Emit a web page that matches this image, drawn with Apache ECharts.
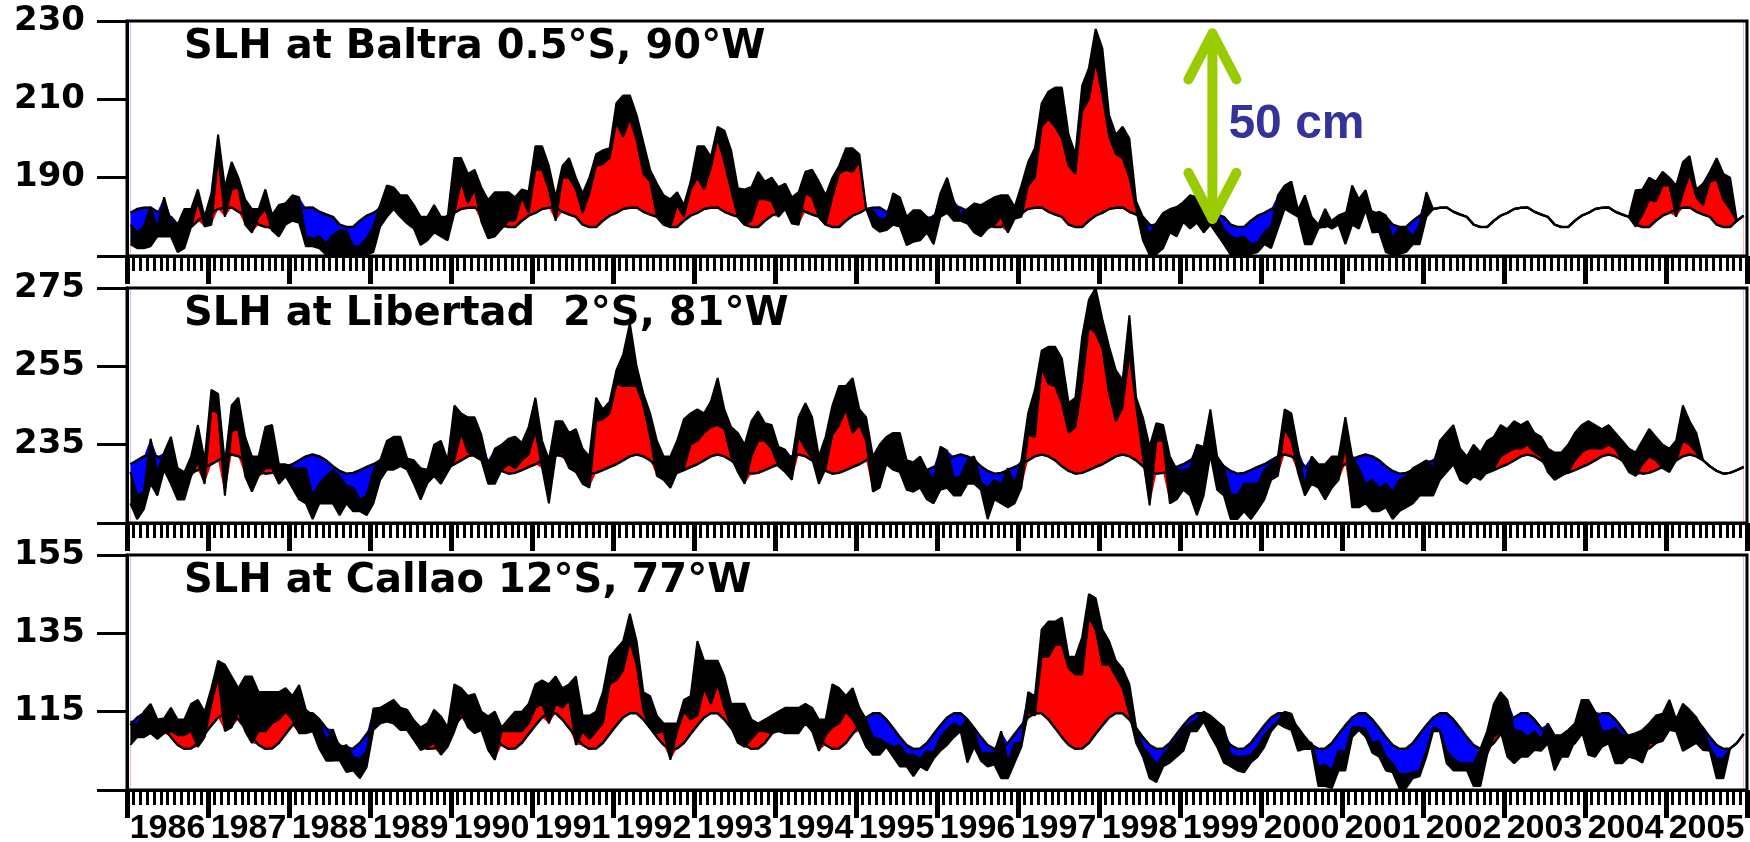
<html>
<head>
<meta charset="utf-8" />
<title>SLH</title>
<script src="https://cdn.jsdelivr.net/npm/echarts@6/dist/echarts.min.js"></script>
<style>
  html, body { margin: 0; padding: 0; background: #fff; }
  #chart { width: 1750px; height: 842px; }
</style>
</head>
<body>
<div id="chart"></div>
<script>
// monthly series, Jan 1986 .. Dec 2005 (one row per year)
const startYear = 1986;
const yearTicks = [1986, 1987, 1988, 1989, 1990, 1991, 1992, 1993, 1994, 1995, 1996,
                   1997, 1998, 1999, 2000, 2001, 2002, 2003, 2004, 2005, 2006];
const yearLabels = yearTicks.slice(0, 20);
const titles = ['SLH at Baltra 0.5°S, 90°W', 'SLH at Libertad  2°S, 81°W', 'SLH at Callao 12°S, 77°W'];
const baltraTicks = [170, 190, 210, 230];
const libertadTicks = [215, 235, 255, 275];
const callaoTicks = [95, 115, 135, 155];

// seasonal climatology, Jan..Dec
const baltraClim = [181.0, 182.0, 182.3, 182.4, 181.3, 180.6, 180.0, 178.0, 177.4, 177.4, 179.0, 180.3];
const libertadClim = [230.0, 231.0, 232.0, 232.5, 232.0, 231.0, 229.5, 228.3, 227.6, 227.8, 228.5, 229.3];
const callaoClim = [111.5, 113.5, 114.6, 114.6, 113.0, 110.8, 108.5, 106.5, 105.5, 105.6, 107.0, 109.3];

// upper / lower envelope of the observed sea level, per month (null = no data)
const baltraHi = [
  178,176,177.5,182.5,177,185,178.5,178,182,182,187,180,
  186,201,187.5,194,190,184.5,182,182,187,180.5,183,183.5,
  185.5,185,175,174.5,175,173.2,175.3,176.5,176.5,172.5,172.5,174.5,
  177.5,183,188,187.5,185.5,185.5,183,180,180,183,180,180,
  195,195,191,192,187.5,184.3,186.3,186.3,186.3,185,187,186.5,
  198,198,193,185,193,195,190,186,190,196,197,197.5,
  209,211,211,206,199,192,188.5,185.5,184.5,186.3,183,189,
  198,198,195.3,203,202,197,187.3,187,187.6,191.5,189,190,
  187.6,188.5,185,186.3,191.5,192,189,185.5,190,193,197.5,197.5,
  196,null,181.5,179.5,179.5,186,185,180,181.7,181.7,180,179,
  186,190,184,180.5,182,183.4,183,184,185,185.5,185.5,182.5,
  188,194,197.5,209,212,213,213,201,196,213.5,218,228,
  223,206,201,203,200,184,180,175.5,178.5,181,182,182.5,
  183.8,185.5,185,183.8,179.5,180,177,175,174.5,175,173,173.5,
  176.2,177.5,185.5,188,189,181.7,185.5,180,178,182,178.7,180,
  180,188,184.5,186.8,180.5,181.3,180.4,174.5,177.4,177,175,178,
  186.3,null,null,null,null,null,null,null,null,null,null,null,
  null,null,null,null,null,null,null,null,null,null,null,null,
  null,null,null,null,null,null,null,186.8,187,190,189,191.5,
  190,188,194,195.5,187,188.5,191.5,195,191,190,null,null
];
const baltraLo = [
  173,172,172,172.5,175,175,175,171,172,177.5,184,177.5,
  178,195.5,180,187,187.5,178,176,180,182,176.5,175,178,
  179,178.5,172.5,172.5,172,170.3,170.3,170.5,170.2,170.2,170.3,170.3,
  171,177.5,180,182,180,178.3,177,172.8,174,176,175,174,
  181,189,183.5,187,178.7,174.5,175,177,179,179,185,181,
  192,192,187,179,190,190,187,181,186,193,193.5,195,
  204,200.4,205,199.5,191,189,180,178.3,177.5,183,180,187,
  190,187,192.5,200,194,186.8,180,178,179,184.5,184.5,184,
  180,182,178.3,178,186,185,180,178,185,191,192,191.5,
  194,null,177.5,176.2,176.6,178,177.5,172.8,173.6,174,176,173,
  180,181,179,179,178.3,176,175,177,178,180,176,179.5,
  180,188,190,203,205,203,200,193,191,207,210,219.5,
  211,200.5,196,195,190,182,174,170.3,170.5,172,176,175,
  178.7,177,178.5,176,178,175.5,173,170.3,170.3,170.5,170.5,171,
  173,172,177,182,181,180,173,173,177,178,177,178,
  173,178,177,181.7,176,176.2,171,170.3,170.5,171,173,173,
  180,null,null,null,null,null,null,null,null,null,null,null,
  null,null,null,null,null,null,null,null,null,null,null,null,
  null,null,null,null,null,null,null,177.5,180.5,184.3,184,188,
  188,180,186,191,185,183,189,189.5,184.3,182,null,null
];

const libertadHi = [
  228,222,223,236.5,228,233,237,229,228,232,240,231,
  249,248,230,245,247,237,232,232,239.5,240,230,230,
  229,229,229,222,225,227,228.5,227,224.5,224,221,222,
  228.5,231,236,237,237,231.5,231,229,228.6,235,236,231,
  245,243,242,242,237.5,229.5,234,235,236.5,237,235.5,239.5,
  247,236,231,241,241,238,239,234,232,247,244,246,
  254,258,266,255,248,243,236,232,232,236,241.5,243,
  244,243,246,252,244,239.5,238,235,241,243.5,240.5,240,
  234.5,233.7,231,242,245.6,242,232,237,245,250,250,252,
  244,242,232,235,237,238,238,231,230.5,232,228.5,226,
  234.5,233.5,226.5,227,231,232,225.5,224,226,225,229,225,
  231,243,249,259,260,260,257,245.6,247,262.5,272,275,
  267,260,254,251.5,268,247,242,234.5,240.5,240,232,228.6,
  228.5,229,235,234.5,244,232,229.5,222.5,222,225,225,225,
  228.6,230,232,244,243,233.7,224.5,232,230,230,232,232,
  242,232,229,225,226,224,225,223,226,227,229,230,
  231,229,236,238,240,234,232,235,233,236,237,240,
  239,241,240,241,238,237,234,233,233,235,238,240,
  241,240,239,240,238,236,234,233,236,239,237,235,
  234,236,245,241,238,null,null,null,null,null,null,null
];
const libertadLo = [
  220,216,218.5,225,222,228.6,225,221,221,227,230.5,225,
  244,243,222,238.5,239,227,223,227,229,229,225,227,
  224,221,220,216,220,220,220,217,220,218,218,217,
  220,226,228.6,228.6,229.5,228.6,225,221,225.2,227,225,228,
  231,238,233,232,231,225,225,228.6,230,229,231,232.5,
  238.5,229,220,232,233,229,228,225,224,241,241.5,243,
  250.5,250,250,250,245,237,227,226,224,228,229,235,
  236,238,239.5,240,239,232,228,225,232,236,236,234,
  229.5,228,226,237,234,231.5,225,229,237.5,240,244,238,
  240,236,223,224,230,228.6,228,223.5,223,224,221,220,
  223.5,224,222,222,225,225,223.5,216,221,220,219,220,
  224,237.5,237,254.5,250.5,250,245.5,238,239.5,250.5,265,263.5,
  259.5,248,241,244.5,258.5,245,232,219.5,236,236,220,221,
  223.5,222,217,222,232.5,223.5,222,216,216,218,216,218.4,
  221,226,227,239,236,227.7,222,225,224,221,224,226,
  234.6,219,219,220,218,218,219,216,218,219,220,222,
  222,222,226,228,230,226,225,227,226,228,229,232,
  233,234,234,235,233,232,228,226,227,228,231,233,
  234,234,234,235,234,231,228,227,230,232,231,229,
  228,231,236,235,233,null,null,null,null,null,null,null
];

const callaoHi = [
  112.5,111.5,115,117,113,113.3,116,113,113,117,118,115,
  121,128,127,124,121,124,124,120,120,120,120,121,
  119,121.8,115.5,114,113,107.5,110.5,105.5,106.5,103.5,103,105,
  115.8,116,117,118,116,115.5,112.8,111,112,115.5,113.8,111,
  122,121,119,119.5,115,113.8,115,111,113,115,115,117,
  122,123,122,124,121,122,124,114,114,115,120,129,
  131,133,140,133,120,119,114,112,112,112,118,119,
  133,128,128,128,124,117,117,117,113,112,113,114,
  115,116,116,116,117,116,113,113,122,121,119,121,
  116,113,108.5,108,107,106,106.5,104,104,103,105,104.5,
  108.5,110.5,112,111,113,110,104.5,104.5,104.5,110,102,107,
  107,120,119,136,138,138,139,129,129,134,145,144,
  136,133,128,126,122,111,106,104,101.5,104,106,108,
  110.5,112,113,115,114,112.5,111,104,103.5,103.5,104,106,
  109,111,112.5,115,114.5,110,107.5,107,101,101.5,100,105,
  104.8,111,111,110.5,107,107.5,103.5,101.8,99,99,99.5,100,
  105,111,110.3,105,103,101.8,101.8,101.8,105.5,110,117,120,
  118,110.3,110,108.6,110,108,112,109,109,110.3,112,118,
  118,115,110,110,111,109,109,109.5,110.3,112,114,114.5,
  118,113,117,115.4,113.5,110,106,103,103,null,null,null
];
const callaoLo = [
  106.5,108.5,108.5,109.5,108,109.5,110,109,109,110,106,108.5,
  117,124,110,111,115,110,107,110,110,112,113,115,
  113,109.5,109.5,110,105.5,102.5,102.5,102.6,99.6,100,98,100.8,
  110.3,112,112.5,112,110.3,110.3,107.8,105.2,106,107,104,106,
  110,115,111,109.5,110.3,105.2,102.7,110,110,110,110,112,
  116,117,112,117,116,118,106.5,110,108,110,112,122,
  123,125.5,133,127,115,111,109.5,110,102.7,110,115,113,
  114,121,117,122,116,111,107,106,108,110,110,109.5,
  110,109.5,109.5,109.5,112,110,105,109,111,112,115,113,
  110,106,104,104,106,103.5,101,101,98.5,101,100,103,
  105,106.5,108.5,110,102,106,102.5,101,101.5,98,98,102,
  106,115,114,129,129,132,132,126,124.5,124.5,139,136,
  127,127,124,121,114.5,107,103.5,98,97,101,102,103.5,
  105,110,110,112.5,109,106,102,101,100,99.5,102,103.5,
  106,110,112,111,110.3,105,105.5,105.5,96,96,95.5,100,
  100,108.5,110.3,108.6,104.5,103.5,100,99.5,95.5,95.5,98,98.5,
  103.5,110,110,101.8,100,100,100,96,96,104,108.6,110,
  103.5,101.8,103.5,103.5,105.2,105,106.9,100,103.5,103.5,107.7,110.3,
  104,103.5,106,106.9,101.8,101.8,103.5,103,102,107,107,107.5,
  110.3,110,105,106,107,105.2,105,98,98,null,null,null
];

// scale arrow annotation, in data units of the top panel
const arrowYear = 1999.4;
const arrowFrom = 178.2;
const arrowTo = 228.1;

const gridTops = [21, 288, 555];
const gridHeight = 235;
const panels = [
  { hi: baltraHi, lo: baltraLo, clim: baltraClim, ticks: baltraTicks },
  { hi: libertadHi, lo: libertadLo, clim: libertadClim, ticks: libertadTicks },
  { hi: callaoHi, lo: callaoLo, clim: callaoClim, ticks: callaoTicks }
];

function monthYear(i) {
  return startYear + (i + 0.5) / 12;
}

function fill(k, data, color, origin) {
  return {
    type: 'line', xAxisIndex: k, yAxisIndex: k, data: data,
    symbol: 'none', silent: true, animation: false,
    lineStyle: { width: 0, opacity: 0 },
    areaStyle: { color: color, opacity: 1, origin: origin }
  };
}

function edge(k, data, width) {
  return {
    type: 'line', xAxisIndex: k, yAxisIndex: k, data: data,
    symbol: 'none', silent: true, animation: false,
    lineStyle: { width: width, color: '#000' }
  };
}

const series = [];
panels.forEach(function (p, k) {
  const hi = [], lo = [], loCut = [], hiCut = [], clim = [];
  for (let i = 0; i < p.hi.length; i++) {
    const x = monthYear(i);
    const c = p.clim[i % 12];
    // where there is no record the band collapses onto the climatology line
    const h = p.hi[i] == null ? c : p.hi[i];
    const l = p.lo[i] == null ? c : p.lo[i];
    clim.push([x, c]);
    hi.push([x, h]);
    lo.push([x, l]);
    loCut.push([x, Math.min(l, c)]);
    hiCut.push([x, Math.max(h, c)]);
  }
  // black band lo..hi, red between clim and lo, blue between hi and clim
  series.push(fill(k, hi, '#000', 'start'));
  series.push(fill(k, lo, '#fff', 'start'));
  series.push(fill(k, lo, '#ff0000', 'start'));
  series.push(fill(k, loCut, '#fff', 'start'));
  series.push(fill(k, hi, '#0000ff', 'end'));
  series.push(fill(k, hiCut, '#fff', 'end'));
  series.push(edge(k, hi, 2));
  series.push(edge(k, lo, 2));
  series.push(edge(k, clim, 2.5));
});

const chart = echarts.init(document.getElementById('chart'));

chart.setOption({
  animation: false,
  backgroundColor: '#fff',
  title: titles.map(function (t, k) {
    return {
      text: t, left: 184, top: gridTops[k] + 7, padding: 0,
      textStyle: { fontFamily: 'DejaVu Sans', fontWeight: 'bold', fontSize: 40, color: '#000' }
    };
  }),
  grid: gridTops.map(function (gt) {
    return {
      left: 127, right: 3, top: gt, height: gridHeight, show: true, z: 10,
      backgroundColor: 'transparent', borderColor: '#000', borderWidth: 3,
      containLabel: false, outerBoundsMode: 'none'
    };
  }),
  xAxis: gridTops.map(function (gt, k) {
    return {
      type: 'value', gridIndex: k, min: 1986, max: 2006, interval: 1, z: 10,
      axisLine: { show: true, onZero: false, lineStyle: { color: '#000', width: 3 } },
      axisTick: { show: true, length: 28, customValues: yearTicks, lineStyle: { color: '#000', width: 5 } },
      minorTick: { show: true, splitNumber: 12, length: 15, lineStyle: { color: '#000', width: 3 } },
      splitLine: { show: false },
      minorSplitLine: { show: false },
      axisLabel: {
        show: k === 2, customValues: yearLabels, hideOverlap: false,
        padding: [0, 0, 0, 81], margin: 22,
        fontFamily: 'Liberation Sans', fontWeight: 'bold', fontSize: 34, color: '#000',
        formatter: function (v) { return String(v); }
      }
    };
  }),
  yAxis: panels.map(function (p, k) {
    return {
      type: 'value', gridIndex: k, min: p.ticks[0], max: p.ticks[p.ticks.length - 1], z: 10,
      axisLine: { show: true, onZero: false, lineStyle: { color: '#000', width: 3 } },
      axisTick: { show: true, length: 30, customValues: p.ticks, lineStyle: { color: '#000', width: 3 } },
      splitLine: { show: false },
      axisLabel: {
        customValues: p.ticks.slice(1), margin: 42,
        fontFamily: 'DejaVu Sans', fontWeight: 'bold', fontSize: 34, color: '#000'
      }
    };
  }),
  series: series
});

// the "50 cm" scale arrow, placed through the top panel's scales
const pTop = chart.convertToPixel({ gridIndex: 0 }, [arrowYear, arrowTo]);
const pBot = chart.convertToPixel({ gridIndex: 0 }, [arrowYear, arrowFrom]);
const ax = pTop[0], ay1 = pTop[1] + 5, ay2 = pBot[1] - 5;
const arrowStyle = { stroke: '#99cc00', lineWidth: 10, lineCap: 'round', lineJoin: 'round', fill: null };
chart.setOption({
  graphic: [
    { type: 'polyline', z: 100, shape: { points: [[ax, ay1], [ax, ay2]] }, style: arrowStyle },
    { type: 'polyline', z: 100, shape: { points: [[ax - 24, ay1 + 46], [ax, ay1], [ax + 24, ay1 + 46]] }, style: arrowStyle },
    { type: 'polyline', z: 100, shape: { points: [[ax - 24, ay2 - 46], [ax, ay2], [ax + 24, ay2 - 46]] }, style: arrowStyle },
    {
      type: 'text', z: 100, x: ax + 16, y: ay1 + 67,
      style: { text: '50 cm', fill: '#333399', font: 'bold 48px "Liberation Sans"', verticalAlign: 'top' }
    }
  ]
});
</script>
</body>
</html>
